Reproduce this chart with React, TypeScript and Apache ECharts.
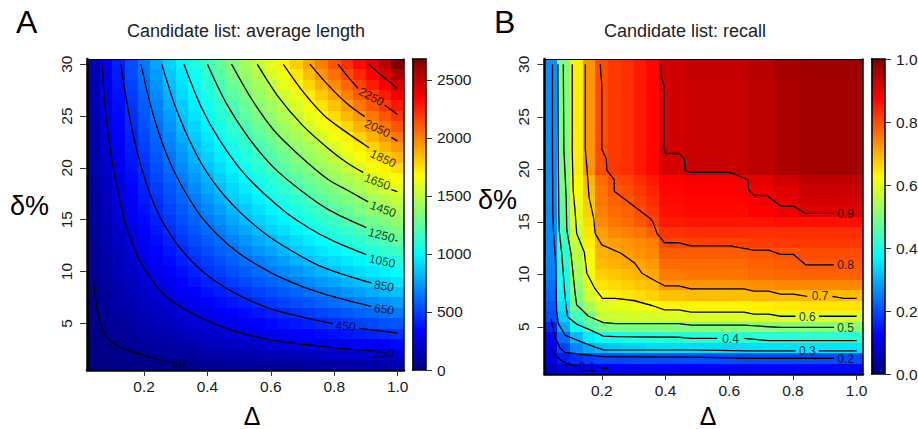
import React, { useEffect, useRef } from "react";
import * as echarts from "echarts";

const FONT = "'Liberation Sans', Arial, sans-serif";
const jetStops = ["#00007F", "#0000FF", "#007FFF", "#00FFFF", "#7FFF7F", "#FFFF00", "#FF7F00", "#FF0000", "#7F0000"];

const deltaCols = [0.04, 0.08, 0.12, 0.16, 0.2, 0.24, 0.28, 0.32, 0.36, 0.4, 0.44, 0.48, 0.52, 0.56, 0.6, 0.64, 0.68, 0.72, 0.76, 0.8, 0.84, 0.88, 0.92, 0.96, 1.0];
const xTicks = [0.2, 0.4, 0.6, 0.8, 1.0];
const yTicks = [5, 10, 15, 20, 25, 30];
const lengthBarTicks = [0, 500, 1000, 1500, 2000, 2500];
const recallBarTicks = [0, 0.2, 0.4, 0.6, 0.8, 1.0];

// rows run from delta% = 1 upward
const lengthRows = [
  [5,11,16,22,27,32,37,43,48,53,58,62,66,70,74,78,83,87,92,97,101,106,111,115,120],
  [11,22,32,43,53,62,70,78,87,97,106,115,125,134,144,153,162,172,181,190,199,208,218,227,240],
  [16,32,48,62,74,87,101,115,129,144,158,172,186,199,213,227,240,254,268,282,295,308,322,335,350],
  [22,43,62,78,97,115,134,153,172,190,208,227,245,263,282,300,318,335,352,370,388,405,422,440,460],
  [27,53,74,97,120,144,167,190,213,240,263,286,308,330,352,375,397,420,440,460,482,505,525,548,565],
  [32,62,87,115,144,172,199,227,254,282,308,335,360,388,414,440,465,490,515,540,565,590,612,632,652],
  [37,70,101,134,167,199,231,263,295,325,355,388,418,448,478,507,536,565,592,620,647,673,700,726,752],
  [43,78,115,153,190,227,263,300,335,370,405,440,476,510,540,570,600,631,661,693,727,760,790,820,850],
  [48,90,129,172,216,258,298,338,377,416,456,492,527,564,597,628,664,698,736,772,808,842,872,903,934],
  [53,97,144,190,240,282,325,370,416,460,500,540,578,616,652,693,733,772,811,850,884,917,950,982,1012],
  [58,106,158,212,264,312,362,408,456,500,545,585,626,668,713,757,802,842,880,917,953,985,1023,1056,1095],
  [62,115,172,230,285,338,390,442,492,540,585,628,678,727,772,820,865,903,943,982,1020,1056,1098,1135,1170],
  [66,125,186,250,308,365,420,476,527,578,626,678,727,780,830,870,918,963,1002,1043,1087,1125,1168,1205,1250],
  [70,134,199,268,330,390,452,510,564,616,668,727,780,834,884,930,975,1020,1063,1110,1150,1190,1238,1285,1330],
  [74,144,213,285,352,416,482,540,597,652,713,772,830,884,934,982,1032,1075,1118,1170,1215,1265,1312,1352,1395],
  [78,153,230,300,375,442,510,570,628,693,757,820,870,930,982,1035,1080,1135,1185,1232,1285,1335,1380,1416,1460],
  [83,162,245,318,397,468,535,600,664,733,802,865,918,975,1032,1080,1135,1190,1242,1300,1350,1392,1432,1484,1534],
  [87,172,258,338,416,492,564,628,698,772,842,903,963,1020,1075,1135,1190,1247,1300,1352,1405,1448,1505,1555,1610],
  [92,181,268,355,437,518,592,661,736,811,880,943,1002,1063,1118,1185,1242,1300,1355,1406,1458,1510,1568,1630,1686],
  [97,190,285,375,460,540,616,693,772,850,917,982,1043,1110,1170,1232,1300,1352,1406,1460,1520,1582,1640,1702,1765],
  [101,199,298,390,482,564,640,727,808,884,953,1020,1087,1150,1215,1285,1350,1405,1458,1520,1592,1650,1712,1780,1855],
  [106,212,312,408,500,585,668,757,842,917,985,1056,1125,1190,1265,1335,1392,1448,1510,1582,1650,1716,1788,1868,1947],
  [111,222,325,425,525,606,697,790,872,950,1023,1098,1168,1238,1312,1380,1432,1505,1568,1640,1712,1788,1872,1954,2035],
  [115,230,338,442,540,628,727,820,903,982,1056,1135,1205,1285,1352,1416,1484,1555,1630,1702,1780,1868,1954,2040,2124],
  [120,240,352,460,562,652,752,850,934,1012,1095,1170,1250,1330,1395,1460,1534,1610,1686,1765,1855,1947,2035,2124,2205],
  [125,250,365,476,578,678,780,870,963,1043,1125,1205,1290,1370,1428,1510,1580,1660,1745,1838,1930,2025,2115,2200,2288],
  [129,258,377,492,597,698,808,903,988,1075,1160,1247,1333,1405,1478,1555,1630,1725,1812,1910,2007,2103,2188,2280,2370],
  [134,268,390,510,616,727,834,930,1020,1110,1190,1285,1370,1440,1520,1605,1690,1780,1885,1982,2080,2170,2268,2355,2450],
  [139,275,405,530,635,748,860,955,1040,1135,1228,1322,1402,1482,1570,1645,1740,1845,1950,2050,2147,2245,2340,2435,2560],
  [144,285,416,540,652,772,884,982,1075,1170,1265,1352,1428,1520,1610,1702,1800,1910,2017,2124,2220,2320,2415,2530,2680],
];

const recallRows = [
  [.06,.085,.095,.10,.11,.115,.115,.12,.12,.125,.125,.125,.125,.125,.125,.125,.128,.128,.128,.128,.13,.13,.13,.13,.13],
  [.095,.15,.17,.185,.195,.195,.195,.2,.2,.2,.2,.2,.2,.2,.2,.2,.2,.2,.2,.2,.2,.2,.2,.2,.2],
  [.105,.19,.26,.29,.31,.32,.33,.33,.34,.34,.34,.34,.34,.34,.34,.34,.345,.345,.345,.345,.35,.35,.35,.35,.35],
  [.13,.23,.31,.36,.385,.39,.40,.40,.405,.41,.41,.41,.41,.41,.41,.41,.415,.415,.415,.415,.42,.42,.42,.42,.42],
  [.16,.29,.39,.45,.49,.50,.50,.50,.50,.505,.505,.505,.505,.505,.505,.505,.51,.51,.51,.51,.51,.51,.51,.51,.51],
  [.20,.33,.44,.49,.57,.575,.58,.58,.585,.59,.59,.59,.59,.59,.59,.59,.59,.59,.59,.59,.59,.59,.59,.59,.59],
  [.21,.35,.48,.54,.585,.60,.60,.61,.62,.635,.635,.635,.635,.635,.635,.635,.64,.64,.645,.645,.65,.65,.65,.65,.65],
  [.225,.37,.50,.58,.62,.64,.65,.66,.67,.685,.685,.69,.69,.69,.69,.69,.69,.69,.69,.69,.69,.69,.69,.69,.69],
  [.235,.39,.52,.60,.65,.66,.67,.68,.69,.73,.73,.73,.73,.73,.73,.73,.735,.735,.74,.74,.74,.74,.74,.74,.74],
  [.25,.40,.54,.61,.67,.68,.69,.70,.71,.755,.755,.76,.76,.76,.76,.76,.77,.77,.775,.775,.78,.78,.78,.78,.78],
  [.255,.41,.55,.62,.69,.70,.71,.715,.725,.77,.77,.77,.77,.77,.77,.77,.78,.78,.785,.785,.79,.79,.79,.79,.79],
  [.26,.42,.56,.63,.70,.71,.72,.73,.74,.785,.785,.785,.785,.785,.785,.785,.79,.79,.795,.795,.80,.80,.80,.80,.80],
  [.26,.43,.57,.64,.71,.72,.73,.74,.75,.805,.805,.81,.81,.81,.81,.81,.815,.815,.82,.82,.82,.82,.82,.82,.82],
  [.265,.45,.58,.65,.72,.74,.75,.76,.78,.825,.825,.83,.83,.83,.83,.83,.83,.83,.83,.83,.83,.83,.83,.83,.83],
  [.265,.46,.59,.66,.74,.76,.77,.79,.81,.85,.85,.855,.855,.855,.855,.855,.855,.855,.86,.86,.86,.86,.86,.86,.86],
  [.265,.47,.60,.67,.75,.77,.78,.80,.82,.86,.86,.865,.865,.865,.865,.865,.875,.875,.89,.89,.906,.906,.906,.906,.906],
  [.27,.48,.61,.68,.76,.78,.79,.81,.83,.865,.865,.87,.87,.87,.87,.87,.88,.89,.895,.90,.917,.917,.917,.917,.917],
  [.27,.49,.62,.69,.76,.79,.80,.82,.84,.87,.87,.875,.875,.875,.875,.875,.89,.89,.905,.905,.929,.929,.929,.929,.929],
  [.27,.50,.63,.70,.77,.80,.81,.83,.85,.875,.875,.885,.885,.885,.885,.885,.90,.90,.92,.92,.937,.937,.937,.937,.937],
  [.27,.50,.64,.73,.80,.82,.83,.85,.87,.915,.915,.93,.93,.93,.93,.93,.94,.94,.955,.955,.964,.964,.964,.964,.964],
  [.27,.50,.64,.73,.80,.82,.83,.85,.87,.915,.915,.93,.93,.93,.93,.93,.94,.94,.955,.955,.964,.964,.964,.964,.964],
  [.27,.50,.64,.73,.80,.82,.83,.85,.87,.918,.918,.93,.93,.93,.93,.93,.94,.94,.955,.955,.964,.964,.964,.964,.964],
  [.27,.50,.64,.73,.80,.82,.83,.85,.87,.918,.918,.93,.93,.93,.93,.93,.94,.94,.955,.955,.964,.964,.964,.964,.964],
  [.27,.50,.64,.73,.80,.82,.83,.85,.87,.918,.918,.93,.93,.93,.93,.93,.94,.94,.955,.955,.964,.964,.964,.964,.964],
  [.27,.50,.64,.73,.80,.82,.83,.85,.87,.918,.918,.93,.93,.93,.93,.93,.94,.94,.955,.955,.964,.964,.964,.964,.964],
  [.27,.50,.64,.73,.80,.82,.83,.85,.87,.918,.918,.93,.93,.93,.93,.93,.94,.94,.955,.955,.964,.964,.964,.964,.964],
  [.27,.50,.64,.73,.80,.82,.83,.85,.87,.918,.918,.93,.93,.93,.93,.93,.94,.94,.955,.955,.964,.964,.964,.964,.964],
  [.27,.50,.64,.73,.80,.82,.83,.85,.87,.918,.918,.93,.93,.93,.93,.93,.94,.94,.955,.955,.964,.964,.964,.964,.964],
  [.27,.50,.64,.73,.80,.82,.83,.85,.87,.921,.921,.933,.933,.933,.933,.933,.944,.944,.96,.96,.969,.969,.969,.969,.969],
  [.27,.50,.64,.73,.80,.82,.83,.85,.87,.921,.921,.933,.933,.933,.933,.933,.944,.944,.96,.96,.969,.969,.969,.969,.969],
];

const lengthContours = [
  [[.04,9.1],[.045,7.8],[.051,6.58],[.062,5],[.082,3.68],[.114,2.87],[.198,1.9],[.282,1.26]],
  [[.342,1.04],[.353,1.04]],
  [[.067,30],[.08,25],[.1,20.5],[.13,15.9],[.16,12.9],[.2,10.3],[.271,7.54],[.376,5.6],[.481,4.3],[.6,3.42],[.796,2.65],[.928,2.33]],
  [[.127,30],[.15,25.6],[.19,20.2],[.24,15.9],[.3,12.8],[.36,10.7],[.42,9.15],[.5,7.7],[.6,6.4],[.7,5.6],[.796,4.97]],
  [[.88,4.52],[.999,4.07]],
  [[.19,30],[.23,25],[.285,20.3],[.366,15.9],[.43,13.6],[.5,11.75],[.6,9.9],[.7,8.55],[.8,7.55],[.917,6.64]],
  [[.256,30],[.3,25.8],[.36,21.6],[.42,18.6],[.497,15.9],[.58,13.7],[.66,12.1],[.75,10.6],[.84,9.6],[.917,8.9]],
  [[.326,30],[.38,25.9],[.44,22.6],[.52,19.3],[.639,15.9],[.72,14.2],[.8,12.9],[.901,11.63]],
  [[.4,30],[.46,26.2],[.53,22.9],[.61,20],[.7,17.7],[.786,15.9],[.901,14.24]],
  [[.993,13],[.999,12.95]],
  [[.476,30],[.54,26.6],[.61,23.6],[.69,21.2],[.78,18.9],[.85,17.7],[.907,16.72]],
  [[.557,30],[.62,27],[.7,24.1],[.78,21.9],[.84,20.5],[.891,19.56]],
  [[.98,17.9],[.999,17.7]],
  [[.639,30],[.7,27.4],[.77,25],[.84,23.4],[.91,21.94]],
  [[.723,30],[.78,28],[.84,26.2],[.896,24.94]],
  [[.98,22.94],[.999,22.6]],
  [[.812,30],[.84,28.9],[.875,27.67]],
  [[.959,26.06],[.999,25.16]],
  [[.909,30],[.95,28.9],[.999,27.67]],
];

const recallContours = [
  [[.04,2.85],[.069,1.85],[.09,1.5],[.121,1.27]],
  [[.2,1.05],[.22,1.05]],
  [[.04,5.8],[.053,4.05],[.069,2.95],[.0845,2.55],[.205,2.15],[.478,2.1],[.656,2],[.929,2]],
  [[.045,30],[.045,21.8],[.046,15.8],[.048,14.2],[.055,11],[.058,6.6],[.0635,5.3],[.0845,4.2],[.132,3.6],[.179,3.05],[.205,2.8],[.478,2.8],[.656,2.7],[.808,2.7]],
  [[.881,2.7],[1,2.7]],
  [[.062,30],[.063,21.8],[.065,15.8],[.066,14.2],[.074,12],[.0845,7.85],[.092,5.95],[.121,5.25],[.163,4.7],[.205,4.1],[.242,4.05],[.441,4],[.48,3.9],[.562,3.9]],
  [[.646,3.9],[.682,3.8],[.724,3.67],[1,3.67]],
  [[.079,30],[.081,21.8],[.088,17.3],[.09,14.2],[.103,12],[.116,8.2],[.121,7.1],[.158,6],[.205,5.4],[.242,5.3],[.441,5.3],[.48,5.15],[.646,5.15],[.724,5],[.761,4.95],[.929,4.95]],
  [[.107,30],[.107,21.8],[.11,18],[.116,16],[.121,13.9],[.145,12.1],[.153,10.1],[.179,8.6],[.202,7.7],[.242,7.7],[.3,7.5],[.36,7],[.397,6.6],[.441,6.6],[.48,6.4],[.646,6.4],[.677,6.2],[.724,6.2],[.761,6],[.808,6]],
  [[.882,6],[1,6]],
  [[.148,30],[.148,21.9],[.153,20.2],[.16,17.3],[.174,15.4],[.179,13.9],[.2,12.8],[.26,12],[.302,11.1],[.326,10.1],[.36,9.5],[.397,8.9],[.441,8.9],[.48,8.6],[.646,8.6],[.677,8.4],[.724,8.4],[.761,8.1],[.801,8.1],[.845,7.9]],
  [[.924,7.9],[.96,7.7],[1,7.7]],
  [[.195,30],[.2,28],[.2,21.9],[.214,21],[.216,19.9],[.239,19],[.239,17.9],[.352,15.3],[.36,15],[.373,13.9],[.397,13],[.441,13],[.48,12.7],[.602,12.7],[.677,12.3],[.724,12.3],[.761,11.9],[.801,11.9],[.84,10.9],[.929,10.9]],
  [[.386,30],[.386,28.9],[.395,28],[.395,22.1],[.4,21.5],[.443,21.5],[.459,21],[.461,19.9],[.48,19.7],[.602,19.7],[.659,19],[.661,18],[.679,17.5],[.719,17.5],[.761,16.5],[.801,16.5],[.84,15.8],[.929,15.8]],
];

const lengthLabels = [
  [.917,26.87,"2250",-28],[.936,23.8,"2050",-25],[.954,20.9,"1850",-25],[.936,18.65,"1650",-20],[.954,16,"1450",-20],
  [.949,13.5,"1250",-15],[.951,11,"1050",-12],[.957,8.6,"850",-10],[.957,6.35,"650",-8],[.836,4.74,"450",-5],[.957,2.13,"250",-2],[.31,1.14,"50",-3],
];
const recallLabels = [
  [.965,15.76,"0.9",0],[.965,10.85,"0.8",0],[.885,7.9,"0.7",0],[.845,5.95,"0.6",0],[.965,4.87,"0.5",0],
  [.604,3.8,"0.4",0],[.845,2.69,"0.3",0],[.965,1.93,"0.2",0],[.153,1.14,"0.1",0],
];

const GRIDS = [
  { left: 87, top: 59, width: 317, height: 311, outerBoundsMode: "none" },
  { left: 412.5, top: 59, width: 13.5, height: 311, outerBoundsMode: "none" },
  { left: 544.5, top: 59, width: 318.5, height: 315, outerBoundsMode: "none" },
  { left: 871.5, top: 59, width: 13.5, height: 315, outerBoundsMode: "none" },
];

const lineOnly = (gridIndex: number, position: string, width: number, extra: any = {}) => ({
  type: "value", gridIndex, position, z: 6,
  axisLine: { show: true, onZero: false, lineStyle: { color: "#000", width } },
  axisTick: { show: false }, axisLabel: { show: false }, splitLine: { show: false }, ...extra,
});
const tickLabelStyle = { color: "#1a1a1a", fontFamily: FONT, fontSize: 15.5 };
const bigText = (text: string, pos: any, fontSize: number) => ({
  text, ...pos, textStyle: { fontFamily: FONT, fontSize, fontWeight: "normal", color: "#000" },
});

function heatRender(_: any, api: any) {
  const x = api.value(0), y = api.value(1);
  const a = api.coord([x - 0.02, y + 0.5]);
  const b = api.coord([x + 0.02, y - 0.5]);
  const x0 = Math.round(a[0]), y0 = Math.round(a[1]);
  return {
    type: "rect",
    shape: { x: x0, y: y0, width: Math.round(b[0]) - x0, height: Math.round(b[1]) - y0 },
    style: { fill: api.visual("color") },
  };
}
function barRender(_: any, api: any) {
  const a = api.coord([0, api.value(1)]);
  const b = api.coord([1, api.value(0)]);
  return {
    type: "rect",
    shape: { x: a[0], y: a[1], width: b[0] - a[0], height: b[1] - a[1] },
    style: {
      fill: new echarts.graphic.LinearGradient(0, 1, 0, 0, jetStops.map((color, i) => ({ offset: i / (jetStops.length - 1), color }))),
    },
  };
}
const cells = (rows: number[][]) => {
  const out: number[][] = [];
  rows.forEach((row, r) => row.forEach((v, c) => out.push([deltaCols[c], r + 1, v])));
  return out;
};

function panelSeries(rows: number[][], contours: number[][][], labels: any[], axis: number, smooth: any) {
  const list: any[] = [
    {
      type: "custom", xAxisIndex: axis, yAxisIndex: axis, renderItem: heatRender, clip: false,
      encode: { x: 0, y: 1 }, data: cells(rows), z: 1, silent: true,
    },
  ];
  contours.forEach((seg) => list.push({
    type: "line", xAxisIndex: axis, yAxisIndex: axis, data: seg, symbol: "none", smooth, z: 3, silent: true,
    lineStyle: { color: "#000", width: 1.3 },
  }));
  list.push({
    type: "scatter", xAxisIndex: axis, yAxisIndex: axis, symbolSize: 1, z: 4, silent: true,
    itemStyle: { color: "transparent" },
    data: labels.map(([x, y, t, r]) => ({
      value: [x, y],
      label: { show: true, position: "inside", formatter: t, rotate: r, color: "#000", fontFamily: FONT, fontSize: 12 },
    })),
  });
  return list;
}

export default function App() {
  const ref = useRef<HTMLDivElement>(null);
  useEffect(() => {
    const chart = echarts.init(ref.current!, null, { renderer: "svg" });
    const mainX = (g: number) => ({
      type: "value", gridIndex: g, min: 0.02, max: 1.02, position: "bottom", z: 6,
      axisLine: { show: true, onZero: false, lineStyle: { color: "#000", width: 2.5 } },
      axisTick: { show: true, length: 6, lineStyle: { color: "#333", width: 1 }, customValues: xTicks },
      axisLabel: { margin: 8, customValues: xTicks, formatter: (v: number) => v.toFixed(1), ...tickLabelStyle },
      splitLine: { show: false },
    });
    const mainY = (g: number) => ({
      type: "value", gridIndex: g, min: 0.5, max: 30.5, position: "left", z: 6,
      axisLine: { show: true, onZero: false, lineStyle: { color: "#000", width: 2.5 } },
      axisTick: { show: true, length: 7, lineStyle: { color: "#333", width: 1 }, customValues: yTicks },
      axisLabel: { margin: 13, rotate: 90, customValues: yTicks, ...tickLabelStyle },
      splitLine: { show: false },
    });
    const barY = (g: number, max: number, ticks: number[], fmt: any) => ({
      type: "value", gridIndex: g, min: 0, max, position: "right", z: 6,
      axisLine: { show: true, onZero: false, lineStyle: { color: "#000", width: 1.5 } },
      axisTick: { show: true, length: 6, lineStyle: { color: "#333", width: 1 }, customValues: ticks },
      axisLabel: { margin: 11, align: "left", customValues: ticks, formatter: fmt, ...tickLabelStyle },
      splitLine: { show: false },
    });
    chart.setOption({
      animation: false,
      backgroundColor: "#fff",
      grid: GRIDS,
      title: [
        { text: "Candidate list: average length", left: 241, top: 17, textAlign: "center", textStyle: { fontFamily: FONT, fontSize: 18, fontWeight: "normal", color: "#222" } },
        { text: "Candidate list: recall", left: 680, top: 17, textAlign: "center", textStyle: { fontFamily: FONT, fontSize: 18, fontWeight: "normal", color: "#222" } },
        bigText("A", { left: 11, top: 1 }, 32),
        bigText("B", { left: 489, top: 1 }, 32),
        bigText("δ%", { left: 5, top: 187 }, 27),
        bigText("δ%", { left: 473, top: 181 }, 27),
        bigText("Δ", { left: 247, top: 398, textAlign: "center" }, 25),
        bigText("Δ", { left: 703, top: 398, textAlign: "center" }, 25),
      ],
      visualMap: [
        { show: false, seriesIndex: 0, dimension: 2, min: 0, max: 2680, inRange: { color: jetStops } },
        { show: false, seriesIndex: 1 + lengthContours.length + 1, dimension: 2, min: 0, max: 1, inRange: { color: jetStops } },
      ],
      xAxis: [
        mainX(0),
        lineOnly(0, "top", 1, { min: 0.02, max: 1.02 }),
        lineOnly(1, "bottom", 1.5, { min: 0, max: 1 }),
        lineOnly(1, "top", 1.5, { min: 0, max: 1 }),
        mainX(2),
        lineOnly(2, "top", 1, { min: 0.02, max: 1.02 }),
        lineOnly(3, "bottom", 1.5, { min: 0, max: 1 }),
        lineOnly(3, "top", 1.5, { min: 0, max: 1 }),
      ],
      yAxis: [
        mainY(0),
        lineOnly(0, "right", 1.5, { min: 0.5, max: 30.5 }),
        barY(1, 2680, lengthBarTicks, (v: number) => String(v)),
        lineOnly(1, "left", 1.5, { min: 0, max: 2680 }),
        mainY(2),
        lineOnly(2, "right", 1.5, { min: 0.5, max: 30.5 }),
        barY(3, 1, recallBarTicks, (v: number) => v.toFixed(1)),
        lineOnly(3, "left", 1.5, { min: 0, max: 1 }),
      ],
      series: [
        ...panelSeries(lengthRows, lengthContours, lengthLabels, 0, 0.3),
        ...panelSeries(recallRows, recallContours, recallLabels, 4, false),
        {
          type: "custom", xAxisIndex: 2, yAxisIndex: 2, renderItem: barRender, silent: true,
          encode: { y: [0, 1] }, data: [[0, 2680]], z: 1,
        },
        {
          type: "custom", xAxisIndex: 6, yAxisIndex: 6, renderItem: barRender, silent: true,
          encode: { y: [0, 1] }, data: [[0, 1]], z: 1,
        },
      ],
    });
    return () => chart.dispose();
  }, []);
  return <div ref={ref} style={{ position: "absolute", left: 0, top: 0, width: 918, height: 429 }} />;
}
